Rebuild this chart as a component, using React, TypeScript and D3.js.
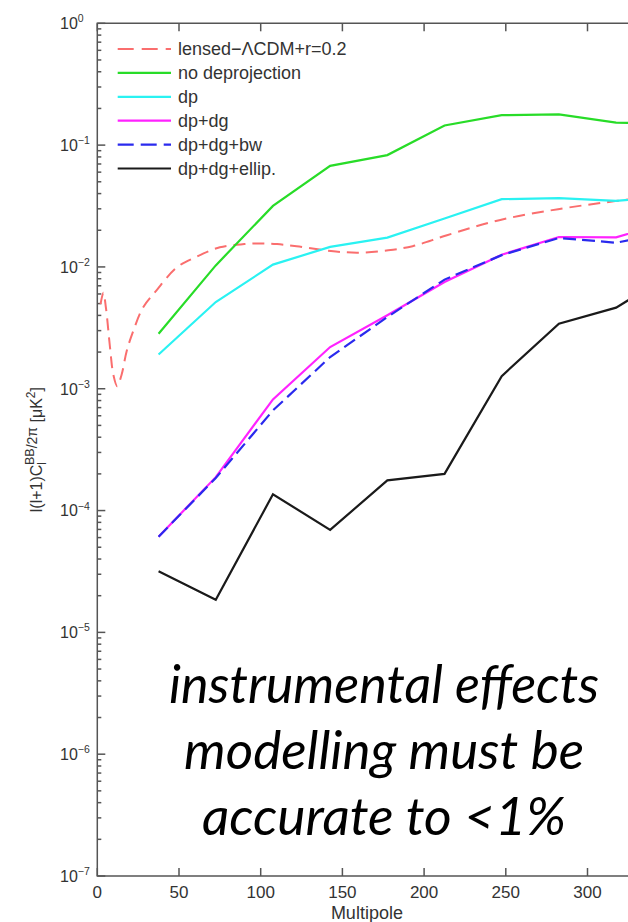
import { useRef, useEffect } from "react";
import * as d3 from "d3";

// multipole bin centres (bins of width 35)
const binCenters = [37.5, 72.5, 107.5, 142.5, 177.5, 212.5, 247.5, 282.5, 317.5, 352.5];

const noDeprojection = [2.83e-3, 1.03e-2, 3.17e-2, 6.76e-2, 8.28e-2, 0.145, 0.176, 0.179, 0.153, 0.15];
const dp = [1.91e-3, 5.15e-3, 1.045e-2, 1.46e-2, 1.74e-2, 2.5e-2, 3.6e-2, 3.67e-2, 3.48e-2, 3.85e-2];
const dpDg = [6.1e-5, 1.88e-4, 8.17e-4, 2.2e-3, 4.01e-3, 7.53e-3, 1.26e-2, 1.76e-2, 1.75e-2, 2.4e-2];
const dpDgBw = [6.1e-5, 1.85e-4, 6.64e-4, 1.82e-3, 3.88e-3, 7.87e-3, 1.25e-2, 1.73e-2, 1.58e-2, 1.95e-2];
const dpDgEllip = [3.17e-5, 1.85e-5, 1.36e-4, 6.94e-5, 1.77e-4, 2.0e-4, 1.27e-3, 3.42e-3, 4.63e-3, 9e-3];

// theory curve, lensed LCDM + r=0.2
const lensedEll = [2, 3.7, 5.3, 7.8, 9.8, 12.2, 14.9, 18, 22, 28, 36, 48.6, 60, 75, 90, 100, 110, 122, 143, 160, 178, 193, 214, 246, 282, 317, 350];
const lensedVal = [4.95e-3, 6.15e-3, 4.6e-3, 2.17e-3, 1.31e-3, 1.05e-3, 1.31e-3, 2.04e-3, 2.98e-3, 4.64e-3, 6.35e-3, 9.9e-3, 1.2e-2, 1.45e-2, 1.54e-2, 1.56e-2, 1.54e-2, 1.48e-2, 1.35e-2, 1.31e-2, 1.37e-2, 1.48e-2, 1.82e-2, 2.42e-2, 2.98e-2, 3.47e-2, 3.9e-2];

const legendLabels = ["lensed\u2212\u039BCDM+r=0.2", "no deprojection", "dp", "dp+dg", "dp+dg+bw", "dp+dg+ellip."];
const xTicks = [0, 50, 100, 150, 200, 250, 300];
const yExponents = [0, -1, -2, -3, -4, -5, -6, -7];
const noteLines = ["instrumental effects", "modelling must be", "accurate to <1%"];

const W = 628;
const H = 922;

const Chart = () => {
    const ref = useRef(null);

    useEffect(() => {
        const svg = d3.select(ref.current);
        svg.selectAll("*").remove();

        const left = 97.3, top = 23.3, bottom = 876, right = 97.3 + 330 * (81.7 / 50);
        const font = "'Liberation Sans', Arial, Helvetica, sans-serif";

        const x = d3.scaleLinear().domain([0, 330]).range([left, right]);
        const y = d3.scaleLog().domain([1e-7, 1]).range([bottom, top]);

        svg.append("rect").attr("width", W).attr("height", H).attr("fill", "#fff");

        svg.append("clipPath").attr("id", "plotclip")
            .append("rect").attr("x", left).attr("y", top)
            .attr("width", right - left).attr("height", bottom - top);

        // ---------------- axes frame
        const axisColor = "#555";
        const frame = svg.append("g").attr("stroke", axisColor).attr("stroke-width", 1.5).attr("fill", "none");
        frame.append("path").attr("d", `M${right},${top}H${left}V${bottom}H${right}V${top}`);

        // x ticks (top and bottom, pointing in)
        xTicks.forEach(t => {
            frame.append("line").attr("x1", x(t)).attr("x2", x(t)).attr("y1", bottom).attr("y2", bottom - 8);
            frame.append("line").attr("x1", x(t)).attr("x2", x(t)).attr("y1", top).attr("y2", top + 8);
        });

        // y ticks, major + minor
        yExponents.forEach(e => {
            const v = Math.pow(10, e);
            frame.append("line").attr("x1", left).attr("x2", left + 8).attr("y1", y(v)).attr("y2", y(v));
            if (e > -7) {
                d3.range(2, 10).forEach(m => {
                    const mv = m * Math.pow(10, e - 1);
                    frame.append("line").attr("x1", left).attr("x2", left + 4).attr("y1", y(mv)).attr("y2", y(mv));
                });
            }
        });

        // tick labels
        const labels = svg.append("g").attr("fill", "#333").attr("font-family", font);
        xTicks.forEach(t => {
            labels.append("text").attr("x", x(t)).attr("y", 898)
                .attr("text-anchor", "middle").attr("font-size", 17).text(t);
        });
        yExponents.forEach(e => {
            const tx = labels.append("text").attr("x", 60).attr("y", y(Math.pow(10, e)) + 5.8);
            tx.append("tspan").attr("font-size", 16).text("10");
            tx.append("tspan").attr("font-size", 10.5).attr("dy", -6.8)
                .text(e === 0 ? "0" : "\u2212" + Math.abs(e));
        });

        labels.append("text").attr("x", (left + right) / 2).attr("y", 919)
            .attr("text-anchor", "middle").attr("font-size", 18).text("Multipole");

        // y label
        const yl = labels.append("text")
            .attr("transform", `translate(42, ${(top + bottom) / 2}) rotate(-90)`)
            .attr("text-anchor", "middle").attr("font-size", 16);
        yl.append("tspan").text("l(l+1)C");
        yl.append("tspan").attr("font-size", 12).attr("dy", 4).text("l");
        yl.append("tspan").attr("font-size", 12.5).attr("dx", -3).attr("dy", -12).text("BB");
        yl.append("tspan").attr("font-size", 14).attr("dy", 3).text("/2\u03C0");
        yl.append("tspan").attr("font-size", 16).attr("dy", 5).text(" [\u03BCK");
        yl.append("tspan").attr("font-size", 12).attr("dy", -7).text("2");
        yl.append("tspan").attr("font-size", 16).attr("dy", 7).text("]");

        // ---------------- series
        const series = [
            { values: noDeprojection, color: "#28dc28", dash: null },
            { values: dp, color: "#2af2f2", dash: null },
            { values: dpDg, color: "#ff22ff", dash: null },
            { values: dpDgBw, color: "#2a2aee", dash: "13,6" },
            { values: dpDgEllip, color: "#1a1a1a", dash: null },
        ];

        const line = d3.line().x(d => x(d[0])).y(d => y(d[1]));
        const plot = svg.append("g").attr("clip-path", "url(#plotclip)").attr("fill", "none");

        plot.append("path")
            .attr("d", d3.line().curve(d3.curveCatmullRom)(lensedEll.map((l, i) => [x(l), y(lensedVal[i])])))
            .attr("stroke", "#fa6e6e").attr("stroke-width", 2).attr("stroke-dasharray", "12,7");

        series.forEach(s => {
            plot.append("path")
                .attr("d", line(binCenters.map((l, i) => [l, s.values[i]])))
                .attr("stroke", s.color).attr("stroke-width", 2.2)
                .attr("stroke-dasharray", s.dash);
        });

        // ---------------- legend
        const legendColors = ["#fa6e6e", "#28dc28", "#2af2f2", "#ff22ff", "#2a2aee", "#1a1a1a"];
        const legendDash = ["16,8", null, null, null, "16,7", null];
        const legend = svg.append("g");
        legendLabels.forEach((lab, i) => {
            const cy = 49 + i * 23.9;
            legend.append("line").attr("x1", 117.7).attr("x2", 171).attr("y1", cy).attr("y2", cy)
                .attr("stroke", legendColors[i]).attr("stroke-width", 2.2)
                .attr("stroke-dasharray", legendDash[i]);
            legend.append("text").attr("x", 178).attr("y", cy + 6.3)
                .attr("font-family", font).attr("font-size", 18).attr("fill", "#333").text(lab);
        });

        // ---------------- annotation
        const widths = [430, 400, 364];
        noteLines.forEach((t, i) => {
            svg.append("text").attr("x", 384).attr("y", 703 + i * 66)
                .attr("text-anchor", "middle")
                .attr("font-family", "Lato, 'Open Sans', sans-serif")
                .attr("font-style", "italic").attr("font-size", 52)
                .attr("textLength", widths[i]).attr("lengthAdjust", "spacingAndGlyphs")
                .attr("fill", "#000").text(t);
        });
    }, []);

    return <svg ref={ref} width={W} height={H} style={{ display: "block" }} />;
};

export default function App() {
    return (
        <div style={{ position: "absolute", left: 0, top: 0, width: W, height: H, overflow: "hidden" }}>
            <Chart />
        </div>
    );
}
